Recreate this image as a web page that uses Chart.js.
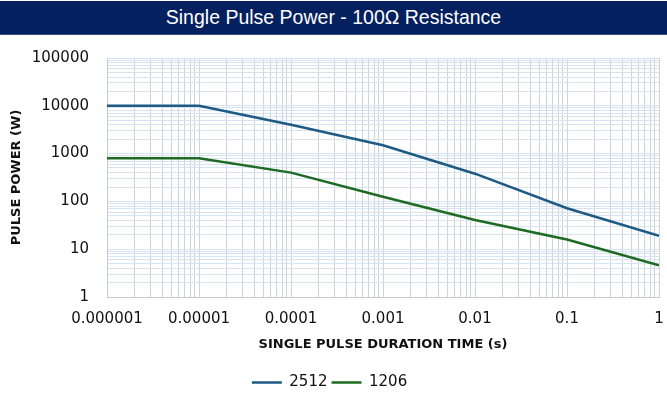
<!DOCTYPE html>
<html>
<head>
<meta charset="utf-8">
<script src="https://cdn.jsdelivr.net/npm/chart.js@4.4.1/dist/chart.umd.min.js"></script>
<style>
  html, body { margin: 0; padding: 0; background: #ffffff; }
  #wrap { position: relative; width: 667px; height: 394px; overflow: hidden; }
  #titlebar {
    position: absolute; left: 0; top: 1px; width: 667px; height: 33px;
    background: #04205e; color: #ffffff;
    font-family: "Liberation Sans", Arial, sans-serif; font-size: 19.5px;
    line-height: 33px; text-align: center; border-bottom: 1px solid #3c4f80;
  }
  #cv { position: absolute; left: 0; top: 0; }
</style>
</head>
<body>
<div id="wrap">
  <div id="titlebar">Single Pulse Power - 100Ω Resistance</div>
  <canvas id="cv" width="667" height="394"></canvas>
</div>
<script>
// ---- data ----
const durations = [0.000001, 0.00001, 0.0001, 0.001, 0.01, 0.1, 1];
const power2512 = [10000, 10000, 4000, 1500, 380, 72, 19];
const power1206 = [800, 800, 400, 125, 41, 16, 4.6];
const seriesNames = ['2512', '1206'];
const xTickLabels = ['0.000001', '0.00001', '0.0001', '0.001', '0.01', '0.1', '1'];
const yTickLabels = ['1', '10', '100', '1000', '10000', '100000'];

const FONT = '"DejaVu Sans", sans-serif';

function logTicks(minExp, maxExp) {
  const t = [];
  for (let e = minExp; e < maxExp; e++) {
    for (let d = 1; d <= 9; d++) t.push({ value: Number(d + 'e' + e) });
  }
  t.push({ value: Number('1e' + maxExp) });
  return t;
}
function labelFor(list, v) {
  for (const s of list) {
    if (Math.abs(Number(s) - v) <= Number(s) * 1e-9) return s;
  }
  return '';
}

const ctx = document.getElementById('cv').getContext('2d');
new Chart(ctx, {
  type: 'line',
  data: {
    datasets: [
      {
        label: seriesNames[0],
        data: durations.map((x, i) => ({ x, y: power2512[i] })),
        borderColor: '#1d5a85', backgroundColor: '#1d5a85',
        borderWidth: 2.5, pointRadius: 0, pointStyle: 'line', tension: 0
      },
      {
        label: seriesNames[1],
        data: durations.map((x, i) => ({ x, y: power1206[i] })),
        borderColor: '#1d6b23', backgroundColor: '#1d6b23',
        borderWidth: 2.5, pointRadius: 0, pointStyle: 'line', tension: 0
      }
    ]
  },
  options: {
    responsive: false,
    animation: false,
    layout: { padding: { top: 58, right: 8, left: 0, bottom: -6 } },
    plugins: {
      tooltip: { enabled: false },
      legend: {
        position: 'bottom',
        labels: {
          usePointStyle: true, pointStyle: 'line', pointStyleWidth: 30,
          color: '#111111', padding: 4,
          font: { family: FONT, size: 15 }
        }
      }
    },
    scales: {
      x: {
        type: 'logarithmic',
        min: 0.000001, max: 1,
        afterBuildTicks: (s) => { s.ticks = logTicks(-6, 0); },
        afterFit: (s) => { s.height = 74; s.paddingLeft = 0; s.paddingRight = 0; },
        ticks: {
          autoSkip: false, maxRotation: 0, padding: 13,
          color: '#111111', font: { family: FONT, size: 15 },
          callback: (v) => labelFor(xTickLabels, v)
        },
        grid: { color: '#d0d3d8', lineWidth: 1, drawTicks: false },
        border: { color: '#c8cbd0' },
        title: {
          display: true, text: 'SINGLE PULSE DURATION TIME (s)', color: '#111111',
          font: { family: FONT, size: 13, weight: 'bold' },
          padding: { top: 0, bottom: 19 }
        }
      },
      y: {
        type: 'logarithmic',
        min: 1, max: 100000,
        afterBuildTicks: (s) => { s.ticks = logTicks(0, 5); },
        afterFit: (s) => { s.width = 107; s.paddingTop = 0; s.paddingBottom = 0; },
        ticks: {
          autoSkip: false, padding: 18,
          color: '#111111', font: { family: FONT, size: 15 },
          callback: (v) => labelFor(yTickLabels, v)
        },
        grid: { color: '#d6e4f2', lineWidth: 1, drawTicks: false },
        border: { color: '#c8cbd0' },
        title: {
          display: true, text: 'PULSE POWER (W)', color: '#111111',
          font: { family: FONT, size: 13, weight: 'bold' },
          padding: { top: 9, bottom: 0 }
        }
      }
    }
  }
});
</script>
</body>
</html>
